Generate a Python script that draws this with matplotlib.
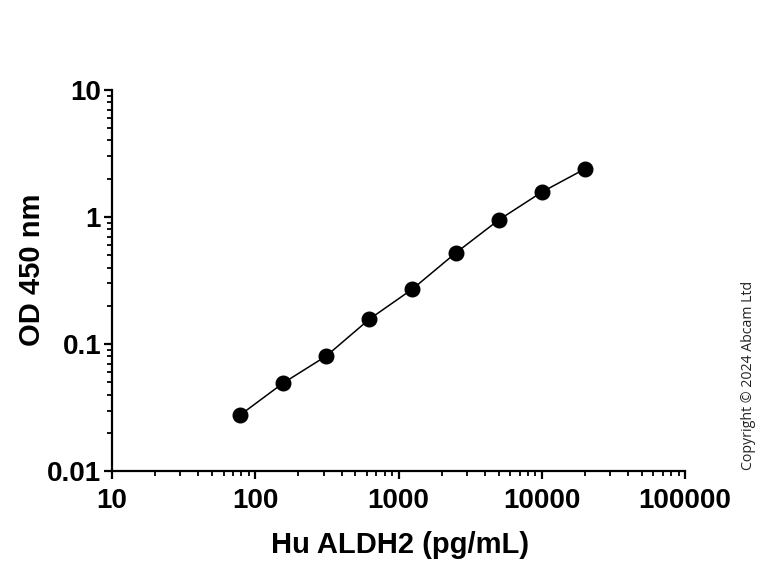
import matplotlib
matplotlib.use("Agg")
import matplotlib.pyplot as plt
from matplotlib.ticker import LogLocator, FixedLocator, NullFormatter

# standard curve data
conc = [78.125, 156.25, 312.5, 625, 1250, 2500, 5000, 10000, 20000]
od = [0.0276, 0.0493, 0.0805, 0.157, 0.271, 0.52, 0.947, 1.57, 2.39]

x_ticks = [10, 100, 1000, 10000, 100000]
x_labels = ['10', '100', '1000', '10000', '100000']
y_ticks = [0.01, 0.1, 1, 10]
y_labels = ['0.01', '0.1', '1', '10']

plt.rcParams['font.family'] = ['Liberation Sans', 'DejaVu Sans']

fig = plt.figure(figsize=(7.68, 5.69), dpi=100)
ax = fig.add_axes([0.146, 0.172, 0.746, 0.670])

ax.plot(conc, od, color='black', linewidth=1.1, marker='o', markersize=10.5,
        markerfacecolor='black', markeredgecolor='black', clip_on=False)

ax.set_xscale('log')
ax.set_yscale('log')
ax.set_xlim(10, 100000)
ax.set_ylim(0.01, 10)

ax.xaxis.set_major_locator(FixedLocator(x_ticks))
ax.set_xticklabels(x_labels)
ax.yaxis.set_major_locator(FixedLocator(y_ticks))
ax.set_yticklabels(y_labels)
ax.xaxis.set_minor_locator(LogLocator(base=10, subs=range(2, 10), numticks=20))
ax.yaxis.set_minor_locator(LogLocator(base=10, subs=range(2, 10), numticks=20))
ax.xaxis.set_minor_formatter(NullFormatter())
ax.yaxis.set_minor_formatter(NullFormatter())

for s in ['top', 'right']:
    ax.spines[s].set_visible(False)
for s in ['left', 'bottom']:
    ax.spines[s].set_linewidth(1.6)

ax.tick_params(which='major', direction='out', length=6, width=1.6,
               labelsize=20, pad=2)
ax.tick_params(axis='x', which='major', pad=6)
ax.tick_params(which='minor', direction='out', length=3.5, width=1.3)
for lab in ax.get_xticklabels() + ax.get_yticklabels():
    lab.set_fontweight('bold')

ax.set_xlabel('Hu ALDH2 (pg/mL)', fontsize=21, fontweight='bold')
ax.xaxis.set_label_coords(0.502, -0.158)
ax.set_ylabel('OD 450 nm', fontsize=21, fontweight='bold')
ax.yaxis.set_label_coords(-0.115, 0.528)

fig.text(0.974, 0.341, 'Copyright \u00a9 2024 Abcam Ltd', rotation=90,
         fontsize=10.2, family=['Open Sans', 'DejaVu Sans'],
         ha='center', va='center', color='#222222')

fig.savefig('out.png', dpi=100)
